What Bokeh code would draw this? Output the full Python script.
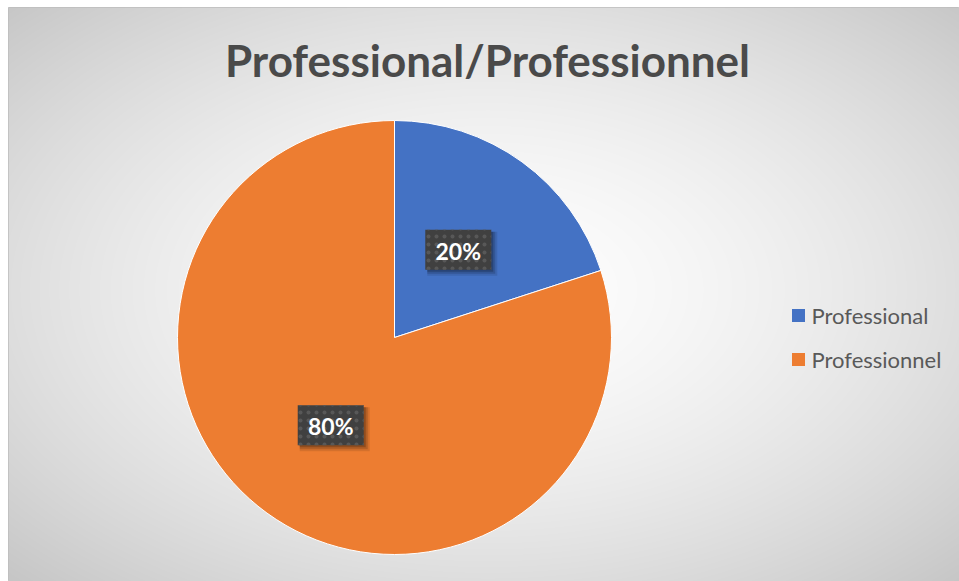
import numpy as np
from bokeh.plotting import figure
from bokeh.models import Range1d, Label, ColumnDataSource
from bokeh.core.properties import value
from bokeh.embed import file_html
from bokeh.resources import INLINE

# ---- data ----
title_text = "Professional/Professionnel"
categories = ["Professional", "Professionnel"]
values = [20, 80]
colors = ["#4472C4", "#ED7D31"]

FW, FH = 951, 574  # frame size
p = figure(width=959, height=581, x_range=Range1d(0, FW), y_range=Range1d(0, FH),
           output_backend="svg", toolbar_location=None,
           min_border_left=8, min_border_top=7, min_border_right=0, min_border_bottom=0,
           x_axis_location=None, y_axis_location=None)
p.grid.visible = False
p.outline_line_color = "#bdbdbd"
p.border_fill_color = "white"
p.background_fill_color = "#d0d0d0"

# ---- radial gradient background (styling) ----
yy, xx = np.mgrid[0:FH, 0:FW].astype(float)
cx, cy = 479.0, 291.0
rx, ry = 479.0 * 1.414, 290.0 * 1.414
d = np.clip(np.sqrt(((xx - cx) / rx) ** 2 + ((yy - cy) / ry) ** 2), 0, 1)
g = (254 - 56 * d ** 1.6).astype(np.uint8)
img = np.empty((FH, FW), dtype=np.uint32)
view = img.view(dtype=np.uint8).reshape((FH, FW, 4))
view[:, :, 0] = g
view[:, :, 1] = g
view[:, :, 2] = g
view[:, :, 3] = 255
p.image_rgba(image=[img], x=0, y=0, dw=FW, dh=FH)

# ---- pie ----
pcx, pcy, R = 386.0, 244.0, 217.0
vals = np.array(values, dtype=float)
frac = vals / vals.sum()
cum = np.concatenate([[0], np.cumsum(frac)])
start = np.pi / 2 - cum[:-1] * 2 * np.pi
end = np.pi / 2 - cum[1:] * 2 * np.pi
mid = (start + end) / 2

src = ColumnDataSource(dict(start=start, end=end, color=colors, cat=categories))
p.wedge(x=pcx, y=pcy, radius=R, start_angle="start", end_angle="end",
        direction="clock", fill_color="color", line_color="white",
        line_width=1, source=src)

# ---- data labels ----
lx = pcx + 0.5 * R * np.cos(mid)
ly = pcy + 0.5 * R * np.sin(mid)
labels = [f"{round(f * 100)}%" for f in frac]
# soft shadow
for off, a, grow in [(4, 0.10, 4), (3, 0.15, 2), (2, 0.20, 0)]:
    p.rect(x=lx + off, y=ly - off, width=66 + grow, height=40 + grow,
           width_units="screen", height_units="screen",
           fill_color="black", fill_alpha=a, line_color=None)
p.rect(x=lx, y=ly, width=66, height=40, width_units="screen",
       height_units="screen", fill_color="#404040", line_color=None,
       hatch_pattern="dot", hatch_color="#585858", hatch_scale=8, hatch_weight=1.5)
p.text(x=lx, y=ly - 1, text=labels, text_font=value("Lato"), text_font_style="bold",
       text_font_size="23px", text_color="white", text_align="center",
       text_baseline="middle")

# ---- legend ----
leg_y = np.array([266.0 - 44.0 * i for i in range(len(categories))])
p.rect(x=790, y=leg_y, width=13, height=13, width_units="screen",
       height_units="screen", fill_color=colors, line_color=None)
p.text(x=803, y=leg_y, text=categories, text_font=value("Lato"),
       text_font_size="22px", text_color="#595959", text_align="left",
       text_baseline="middle")

# ---- title ----
p.text(x=[479], y=[522], text=[title_text], text_font=value("Lato"),
       text_font_style="bold", text_font_size="44px",
       text_color="#4a4a4a", text_align="center", text_baseline="middle")

open("out.html", "w").write(file_html(p, INLINE))
